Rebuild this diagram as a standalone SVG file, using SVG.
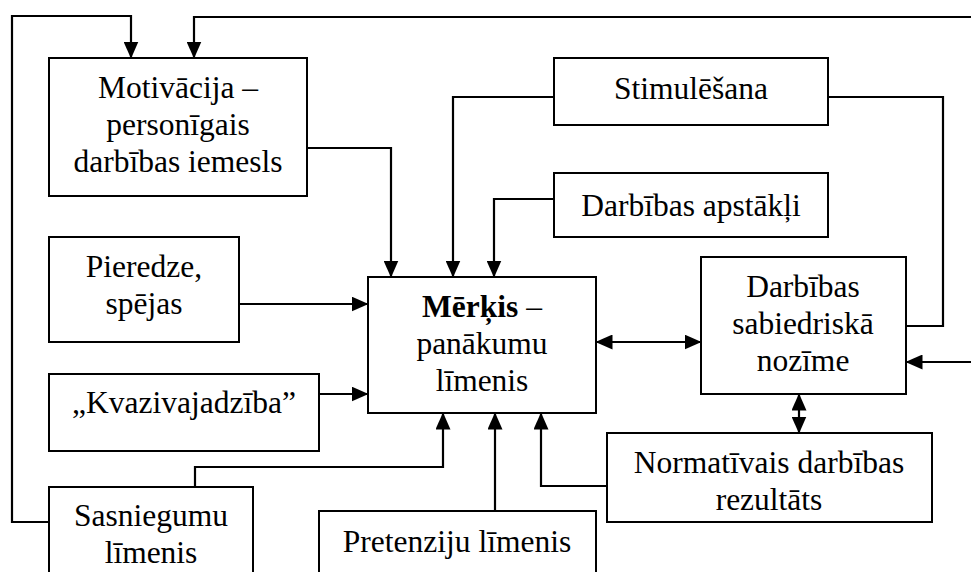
<svg xmlns="http://www.w3.org/2000/svg" width="971" height="572" viewBox="0 0 971 572">
  <style>
    .box { fill: #fff; stroke: #000; stroke-width: 2; }
    .lbl { font-family: "Liberation Serif", "Times New Roman", serif; font-size: 31.5px; fill: #000; text-anchor: middle; }
    .con { fill: none; stroke: #000; stroke-width: 2.2; }
    .arr { marker-end: url(#head); }
    .both { marker-start: url(#head); marker-end: url(#head); }
  </style>
  <defs>
    <!-- solid triangular arrowhead, tip on the line end -->
    <marker id="head" markerUnits="userSpaceOnUse" markerWidth="17" markerHeight="15" refX="16.5" refY="7.5" orient="auto-start-reverse">
      <path d="M0,0 L17,7.5 L0,15 z" fill="#000"/>
    </marker>
  </defs>
  <rect width="971" height="572" fill="#fff"/>

  <g id="connectors">
    <path class="con arr" d="M307,148 H391 V277"/>
    <path class="con arr" d="M554,97 H453 V277"/>
    <path class="con arr" d="M554,199 H494 V277"/>
    <path class="con arr" d="M239,304 H368"/>
    <path class="con arr" d="M319,394 H368"/>
    <path class="con arr" d="M195,487 V467 H443 V413"/>
    <path class="con arr" d="M495,511 V413"/>
    <path class="con arr" d="M607,486 H541 V413"/>
    <path class="con both" d="M596,342 H701"/>
    <path class="con both" d="M799,394 V433"/>
    <path class="con" d="M828,97 H943 V326 H906"/>
    <path class="con arr" d="M49,522 H12 V16 H131 V58"/>
    <path class="con both" d="M194,58 V17 H976 V362 H906"/>
  </g>

  <g id="motivacija">
    <rect class="box" x="49" y="58" width="258" height="138"/>
    <text class="lbl" x="178" y="98">Motivācija –</text>
    <text class="lbl" x="178" y="135">personīgais</text>
    <text class="lbl" x="178" y="172">darbības iemesls</text>
  </g>

  <g id="stimulesana">
    <rect class="box" x="554" y="58" width="274" height="67"/>
    <text class="lbl" x="691" y="99">Stimulēšana</text>
  </g>

  <g id="apstakli">
    <rect class="box" x="554" y="173" width="274" height="64"/>
    <text class="lbl" x="691" y="216">Darbības apstākļi</text>
  </g>

  <g id="pieredze">
    <rect class="box" x="49" y="237" width="190" height="105"/>
    <text class="lbl" x="144" y="277">Pieredze,</text>
    <text class="lbl" x="144" y="314">spējas</text>
  </g>

  <g id="kvazivajadziba">
    <rect class="box" x="49" y="374" width="270" height="77"/>
    <text class="lbl" x="184" y="413">„Kvazivajadzība”</text>
  </g>

  <g id="merkis">
    <rect class="box" x="368" y="277" width="228" height="136"/>
    <text class="lbl" x="482" y="317"><tspan font-weight="bold">Mērķis</tspan> –</text>
    <text class="lbl" x="482" y="354">panākumu</text>
    <text class="lbl" x="482" y="391">līmenis</text>
  </g>

  <g id="sabiedriska-nozime">
    <rect class="box" x="701" y="257" width="205" height="137"/>
    <text class="lbl" x="803" y="297">Darbības</text>
    <text class="lbl" x="803" y="334">sabiedriskā</text>
    <text class="lbl" x="803" y="371">nozīme</text>
  </g>

  <g id="normativais">
    <rect class="box" x="607" y="433" width="325" height="89"/>
    <text class="lbl" x="769" y="473">Normatīvais darbības</text>
    <text class="lbl" x="769" y="510">rezultāts</text>
  </g>

  <g id="sasniegumu">
    <rect class="box" x="49" y="487" width="204" height="100"/>
    <text class="lbl" x="151" y="526">Sasniegumu</text>
    <text class="lbl" x="151" y="563">līmenis</text>
  </g>

  <g id="pretenziju">
    <rect class="box" x="319" y="511" width="277" height="80"/>
    <text class="lbl" x="457" y="552">Pretenziju līmenis</text>
  </g>
</svg>
